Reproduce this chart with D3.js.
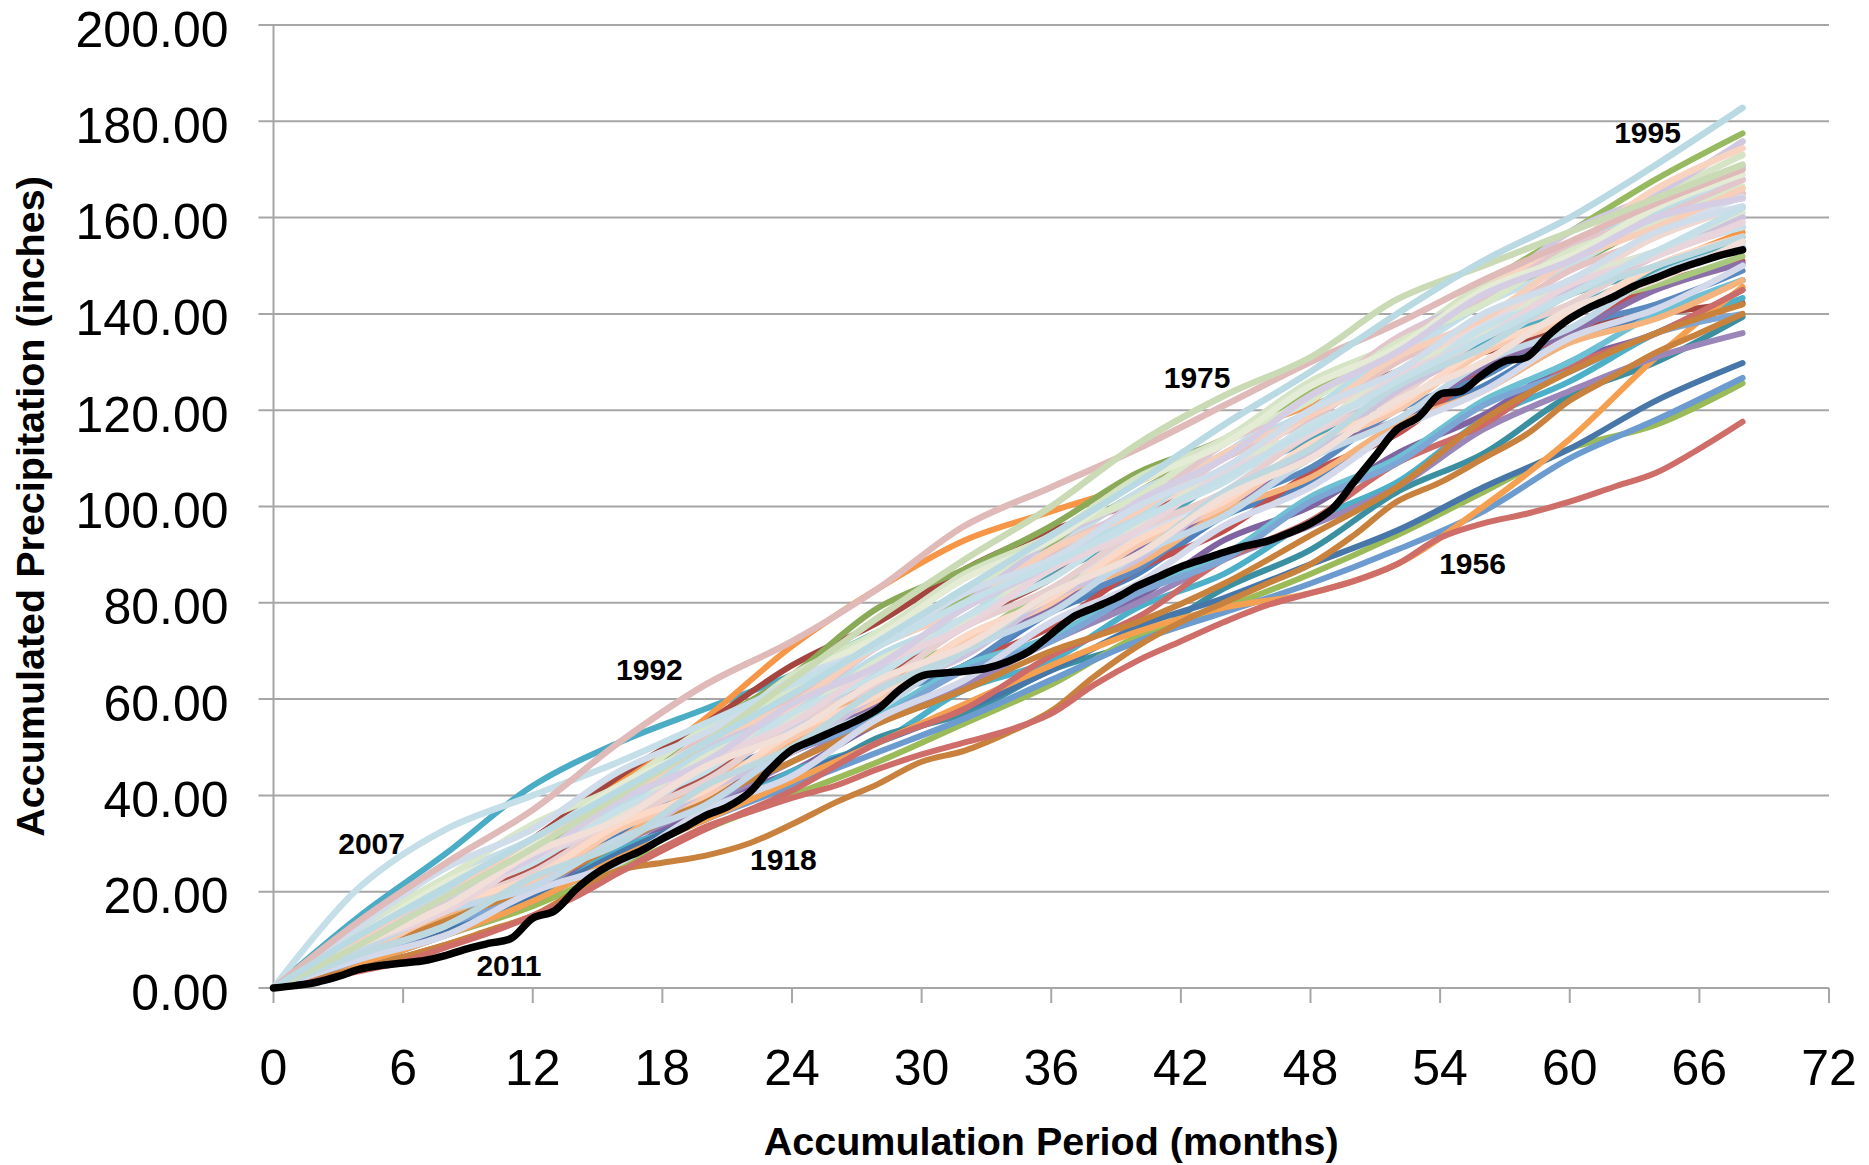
<!DOCTYPE html>
<html><head><meta charset="utf-8">
<script src="https://cdn.jsdelivr.net/npm/d3@7"></script>
<style>body{margin:0;background:#fff}svg{display:block}</style>
</head><body>
<svg id="chart" width="1869" height="1165"></svg>
<script>
// ---------- DATA ----------
const knotMonths = [0,4,8,12,16,20,24,28,32,36,40,44,48,52,56,60,64,68];
const evenMonths = [0,2,4,6,8,10,12,14,16,18,20,22,24,26,28,30,32,34,36,38,40,42,44,46,48,50,52,54,56,58,60,62,64,66,68];
const xTicks = [0,6,12,18,24,30,36,42,48,54,60,66,72];
const yTicks = [0,20,40,60,80,100,120,140,160,180,200];

// 2011 (monthly, months 0..68)
const y2011 = [0,0.5,1.2,2.4,3.9,4.7,5.2,5.7,6.8,8.2,9.3,10.3,14.5,16.0,20.5,24.0,26.5,28.5,31.0,33.3,35.8,37.6,40.5,45.5,49.5,51.5,53.5,55.5,58.0,62.0,64.8,65.4,65.8,66.4,67.8,70.0,73.5,77.0,79.0,81.0,83.5,85.5,87.5,89.0,90.5,91.8,92.8,94.5,96.5,99.5,105.0,110.5,116.0,118.6,123.3,124.0,127.5,130.2,131.0,135.5,139.0,141.5,143.5,145.8,147.5,149.3,150.8,152.2,153.3];

// labelled years
const y1918 = [0,2,4,6.5,9,12,15,20,24.5,26,27.5,30,34,38.5,42.4,47,49.3,53,57.5,64.7,71,76,80,84,88,94,101,105,110,115,122,127,132,136,140]; // evenMonths
const y1956 = [0,1.5,3.5,5.5,8.5,11.5,15,19,24,29,33.5,36.5,39.5,42,45.5,48.5,51,53.5,57,63,68,72,76,79.5,82,84.5,88,93.5,96.5,98.5,101,104,107,112,117.6]; // evenMonths
const y2007 = [0,21,33,40,47,55,63,71,80,88,97,106,116,126,135,144,153,162]; // knotMonths
const y1992 = [0,14,26,37,51,63,72,83,96,104,112,121,130,138,147,155,163,170];
const y1975 = [0,9,19,29,40,51,64,77,89,100,113,123,131,143,150,157,164,171];
const y1995 = [0,11,21,31,41,51,61,72,83,94,105,117,128,140,151,160,171,182.8];

// other years, saturated palette group (values at knotMonths)
const otherYearsA = [
  [0,15,28,42,51,58,65,74,81,89,99,107,116,127,134,141,149,155],
  [0,10,21,31,43,56,71,83,93,99,105,114,121,127,137,144,150,157],
  [0,9,20,31,44,55,67,76,87,95,101,110,119,128,132,137,140,142.3],
  [0,8,18,27,41,54,65,79,87,96,107,114,125,132,144,150,159,165],
  [0,7,14,24,32,44,51,61,67,78,86,98,105,117,125,135,140,147],
  [0,6,13,20,31,39,49,56,67,75,87,95,107,115,128,136,146,151],
  [0,6,12,21,28,38,45,55,62,73,81,93,100,111,119,130,136,145],
  [0,5,12,18,29,35,45,51,62,68,79,86,97,105,118,126,136,143.3],
  [0,6,11,19,26,36,42,52,57,66,72,83,91,103,111,123,130,139.4],
  [0,5,11,17,25,33,40,47,55,63,73,79,86,94,103,112,117,125.6],
  [0,6,12,19,28,36,44,51,58,66,75,81,88,95,104,112,122,129.8],
  [0,5,11,18,27,35,42,49,56,64,72,78,84,91,99,110,118,126.7],
  [0,5,11,18,27,35,43,51,59,67,74,79,82,88,100,114,131,145.6],
  [0,6,13,21,30,38,47,56,63,72,80,89,96,104,116,124,131,136],
  [0,4,9,15,24,33,41,51,58,69,77,89,97,109,117,129,136,145],
  [0,7,14,23,30,41,49,60,67,79,87,100,108,120,127,137,142,149],
  [0,8,16,23,34,41,52,59,71,79,91,99,111,118,129,136,145,150.5],
  [0,7,15,22,33,40,51,57,67,73,83,90,102,110,122,130,140,147],
  [0,8,16,26,34,46,54,65,72,83,90,102,110,122,130,141,146,152],
  [0,9,18,28,36,48,56,68,75,86,94,106,114,126,133,144,149,156],
  [0,8,17,25,36,44,56,64,76,85,98,107,119,127,138,144,153,158],
  [0,6,13,20,31,38,49,56,66,72,82,89,101,109,121,128,136,140],
  [0,7,15,24,31,43,51,63,70,81,88,99,106,117,124,134,139,147],
  [0,7,14,21,30,39,47,55,62,70,76,84,94,104,118,128,136,142],
  [0,9,18,28,39,50,61,71,81,92,103,113,124,134,146,157,168,177.5]
];
// other years, pastel palette group (values at knotMonths)
const otherYearsB = [
  [0,12,23,31,42,51,63,71,83,91,103,111,123,131,142,150,160,168],
  [0,11,20,31,40,52,60,72,79,90,98,110,118,130,138,149,156,165],
  [0,10,21,29,42,51,65,74,86,94,106,114,126,134,146,153,164,173],
  [0,10,18,30,38,50,58,71,80,93,102,114,122,135,144,157,165,175.8],
  [0,9,19,26,38,46,58,66,79,88,101,110,123,132,145,154,166,174.4],
  [0,8,17,23,34,41,53,61,73,81,94,103,116,125,138,146,157,164.3],
  [0,9,16,27,34,46,54,66,75,88,96,108,116,128,136,147,153,160.2],
  [0,10,20,27,39,47,59,67,79,87,99,107,119,127,139,146,156,162.3],
  [0,11,20,31,38,49,57,69,77,89,98,111,120,133,142,154,161,170.6],
  [0,8,17,24,35,43,55,63,75,83,95,103,115,123,135,142,152,158.1],
  [0,9,17,28,36,48,56,68,76,88,96,108,116,128,136,147,153,161],
  [0,7,16,22,33,40,52,60,72,80,92,100,112,120,132,139,150,156],
  [0,7,13,23,30,41,49,61,69,81,89,102,111,124,133,145,152,160],
  [0,9,19,26,37,45,57,65,77,85,97,105,117,125,137,144,153,158],
  [0,10,19,31,39,51,59,71,79,91,100,113,122,135,143,154,160,167.8],
  [0,13,23,34,42,54,62,74,82,94,102,114,122,134,142,153,159,166.4],
  [0,8,17,23,34,41,53,61,73,81,93,101,113,121,133,140,150,156],
  [0,6,11,20,26,37,44,56,64,76,84,96,104,116,124,135,141,150],
  [0,8,16,21,31,38,50,58,70,78,90,98,110,118,130,137,148,154],
  [0,9,16,27,35,47,55,67,75,87,95,107,115,127,135,146,152,159],
  [0,11,22,30,42,51,64,73,85,93,105,113,125,133,145,152,162,169],
  [0,10,19,31,39,51,59,71,79,91,99,111,119,131,139,151,158,166],
  [0,9,19,27,39,47,59,67,79,88,101,110,123,132,144,151,160,164],
  [0,7,13,23,30,42,50,62,70,82,90,103,112,125,133,144,150,156],
  [0,13,25,33,45,53,64,71,82,89,100,108,120,128,140,147,157,162.3],
  [0,9,17,28,35,46,53,64,71,82,90,102,110,122,130,141,147,155]
];

const labelYears  = ["2007","2011","1992","1918","1975","1956","1995"];
const labelMonths = [4.54, 10.9, 17.4, 23.6, 42.75, 55.5, 63.6];
const labelValues = [27.8, 2.5, 64.0, 24.5, 124.6, 86.0, 175.5];

// ---------- STYLE ----------
const colorsA = ["#4bacc6","#f79646","#a5453f","#8aaa58","#4f81bd","#c0504d","#8064a2","#4bb0c8","#3a8fa0","#9bbb59","#4677a8","#6b9bcf","#f5a050","#9a86b8","#cc6b68","#5a8ac0","#8a6fa8","#6ec0d4","#a8c97c","#4aa5b5","#b0524c","#7ea6d4","#f4b27c","#c8823c","#97b960"];
const colorsB = ["#c6dee7","#e6c3c3","#d6e4c6","#d0c8e0","#f8d3bf","#d6deec","#c4d3e8","#f0d8d2","#bcdce6","#e8cfcf","#dde6cf","#f9c9ad","#cdc3dc","#c8e0e8","#e2c6cc","#d9e7c9","#fbd9c6","#d3d9ea","#c2d8e6","#ead4dc","#e4ecd6","#f6cfbb","#d5cde4","#bed8e0","#cfdcea","#f2e0d8"];
const FONT = "'Liberation Sans', Arial, Helvetica, sans-serif";

const svg = d3.select("#chart");
svg.append("rect").attr("width",1869).attr("height",1165).attr("fill","#fff");

const x = d3.scaleLinear().domain([0,72]).range([273.5,1829]);
const y = d3.scaleLinear().domain([0,200]).range([988,25]);

// grid
const grid = svg.append("g");
grid.selectAll("line.h").data(yTicks).join("line")
  .attr("x1", x(0)-15).attr("x2", x(72))
  .attr("y1", d=>y(d)).attr("y2", d=>y(d))
  .attr("stroke","#a6a6a6").attr("stroke-width",2);
grid.append("line").attr("x1",x(0)).attr("x2",x(0)).attr("y1",y(200)).attr("y2",y(0))
  .attr("stroke","#a6a6a6").attr("stroke-width",2);
grid.selectAll("line.v").data(xTicks).join("line")
  .attr("x1", d=>x(d)).attr("x2", d=>x(d))
  .attr("y1", y(0)).attr("y2", y(0)+15)
  .attr("stroke","#a6a6a6").attr("stroke-width",2);

// tick labels
svg.append("g").selectAll("text").data(yTicks).join("text")
  .attr("x", x(0)-45).attr("y", d=>y(d)+21.5)
  .attr("text-anchor","end").attr("font-family",FONT).attr("font-size",50)
  .text(d=>d3.format(".2f")(d));
svg.append("g").selectAll("text").data(xTicks).join("text")
  .attr("x", d=>x(d)).attr("y", y(0)+97)
  .attr("text-anchor","middle").attr("font-family",FONT).attr("font-size",50)
  .text(d=>d);

// axis titles
svg.append("text").attr("x",(x(0)+x(72))/2).attr("y",1155)
  .attr("text-anchor","middle").attr("font-family",FONT).attr("font-size",39.5).attr("font-weight","bold")
  .text("Accumulation Period (months)");
svg.append("text").attr("transform",`translate(44,${(y(0)+y(200))/2}) rotate(-90)`)
  .attr("text-anchor","middle").attr("font-family",FONT).attr("font-size",39.5).attr("font-weight","bold")
  .text("Accumulated Precipitation (inches)");

// lines
const line = d3.line().x(d=>x(d[0])).y(d=>y(d[1])).curve(d3.curveCatmullRom.alpha(0.5));
const lines = svg.append("g").attr("fill","none").attr("stroke-linecap","round").attr("stroke-linejoin","round");
function draw(vals, months, color, w){
  lines.append("path").attr("d", line(vals.map((v,i)=>[months[i], v])))
    .attr("stroke", color).attr("stroke-width", w);
}
const monthly = y2011.map((v,i)=>i);
otherYearsA.forEach((s,i)=>draw(s, knotMonths, colorsA[i % colorsA.length], 6));
draw(y1918, evenMonths, "#c9823d", 6);
draw(y1956, evenMonths, "#cf6d69", 6);
otherYearsB.forEach((s,i)=>draw(s, knotMonths, colorsB[i % colorsB.length], 6.5));
draw(y2007, knotMonths, "#c5dfe8", 6.5);
draw(y1992, knotMonths, "#e0b9b9", 6.5);
draw(y1975, knotMonths, "#c9dab5", 6.5);
draw(y1995, knotMonths, "#b9d9e3", 6.5);
draw(y2011, monthly, "#000000", 7.5);

// year labels
svg.append("g").selectAll("text").data(labelYears).join("text")
  .attr("x",(d,i)=>x(labelMonths[i])).attr("y",(d,i)=>y(labelValues[i]))
  .attr("text-anchor","middle").attr("font-family",FONT).attr("font-size",30).attr("font-weight","bold")
  .text(d=>d);
</script>
</body></html>
